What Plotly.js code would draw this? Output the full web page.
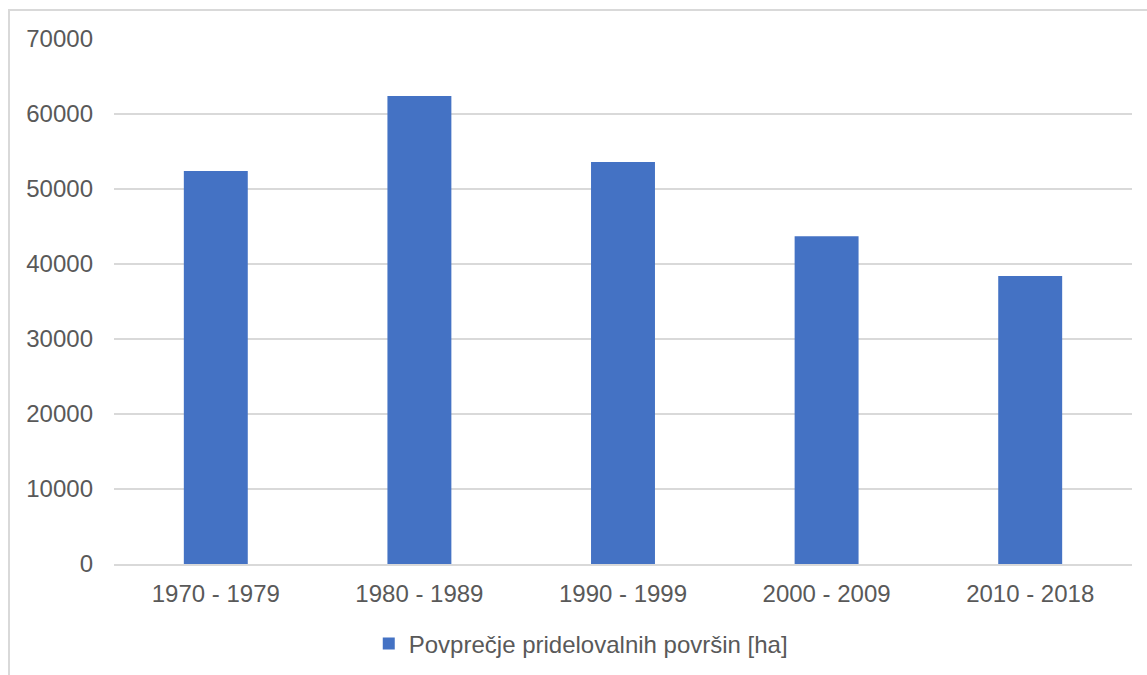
<!DOCTYPE html>
<html>
<head>
<meta charset="utf-8">
<script src="https://cdn.plot.ly/plotly-3.0.1.min.js"></script>
<style>
  html, body { margin: 0; padding: 0; overflow: hidden; background: #ffffff; }
  #chart { position: absolute; left: 0; top: 0; width: 1147px; height: 675px; }
  #frame {
    position: absolute; left: 8px; top: 9px; width: 1200px; height: 700px;
    border-left: 2px solid #d9d9d9; border-top: 2px solid #d9d9d9;
    pointer-events: none;
  }
</style>
</head>
<body>
<div id="chart"></div>
<div id="frame"></div>
<script>
// Average cultivated area per decade, hectares
const decades = ['1970 - 1979', '1980 - 1989', '1990 - 1999', '2000 - 2009', '2010 - 2018'];
const averageArea = [52400, 62400, 53600, 43700, 38400];
const seriesName = 'Povprečje pridelovalnih površin [ha]';
const yTicks = [0, 10000, 20000, 30000, 40000, 50000, 60000, 70000];

const textColor = '#595959';
const gridColor = '#d9d9d9';
const fontFamily = '"Liberation Sans", Arial, sans-serif';

const trace = {
  type: 'bar',
  x: decades,
  y: averageArea,
  name: seriesName,
  marker: { color: '#4472c4', line: { width: 0 } },
  showlegend: true,
  hoverinfo: 'x+y'
};

const layout = {
  width: 1147,
  height: 675,
  margin: { l: 114, r: 15, t: 38.5, b: 110.5, autoexpand: false },
  paper_bgcolor: 'rgba(0,0,0,0)',
  plot_bgcolor: 'rgba(0,0,0,0)',
  font: { family: fontFamily, size: 24, color: textColor },
  bargap: 0.686,
  xaxis: {
    type: 'category',
    showgrid: false,
    showline: true,
    linecolor: gridColor,
    linewidth: 1.5,
    ticks: '',
    ticklabelstandoff: 8,
    tickfont: { family: fontFamily, size: 24, color: textColor },
    zeroline: false
  },
  yaxis: {
    range: [0, 70000],
    tickmode: 'array',
    tickvals: yTicks,
    ticktext: yTicks.map(String),
    showgrid: true,
    gridcolor: gridColor,
    gridwidth: 1.5,
    showline: false,
    zeroline: false,
    ticks: '',
    ticklabelstandoff: 20,
    tickfont: { family: fontFamily, size: 24, color: textColor }
  },
  showlegend: true,
  legend: {
    orientation: 'h',
    xref: 'container',
    yref: 'container',
    x: 0.3215,
    xanchor: 'left',
    y: 0.0459,
    yanchor: 'middle',
    font: { family: fontFamily, size: 24, color: textColor },
    bgcolor: 'rgba(0,0,0,0)'
  }
};

Plotly.newPlot('chart', [trace], layout, { displayModeBar: false, staticPlot: true });
</script>
</body>
</html>
